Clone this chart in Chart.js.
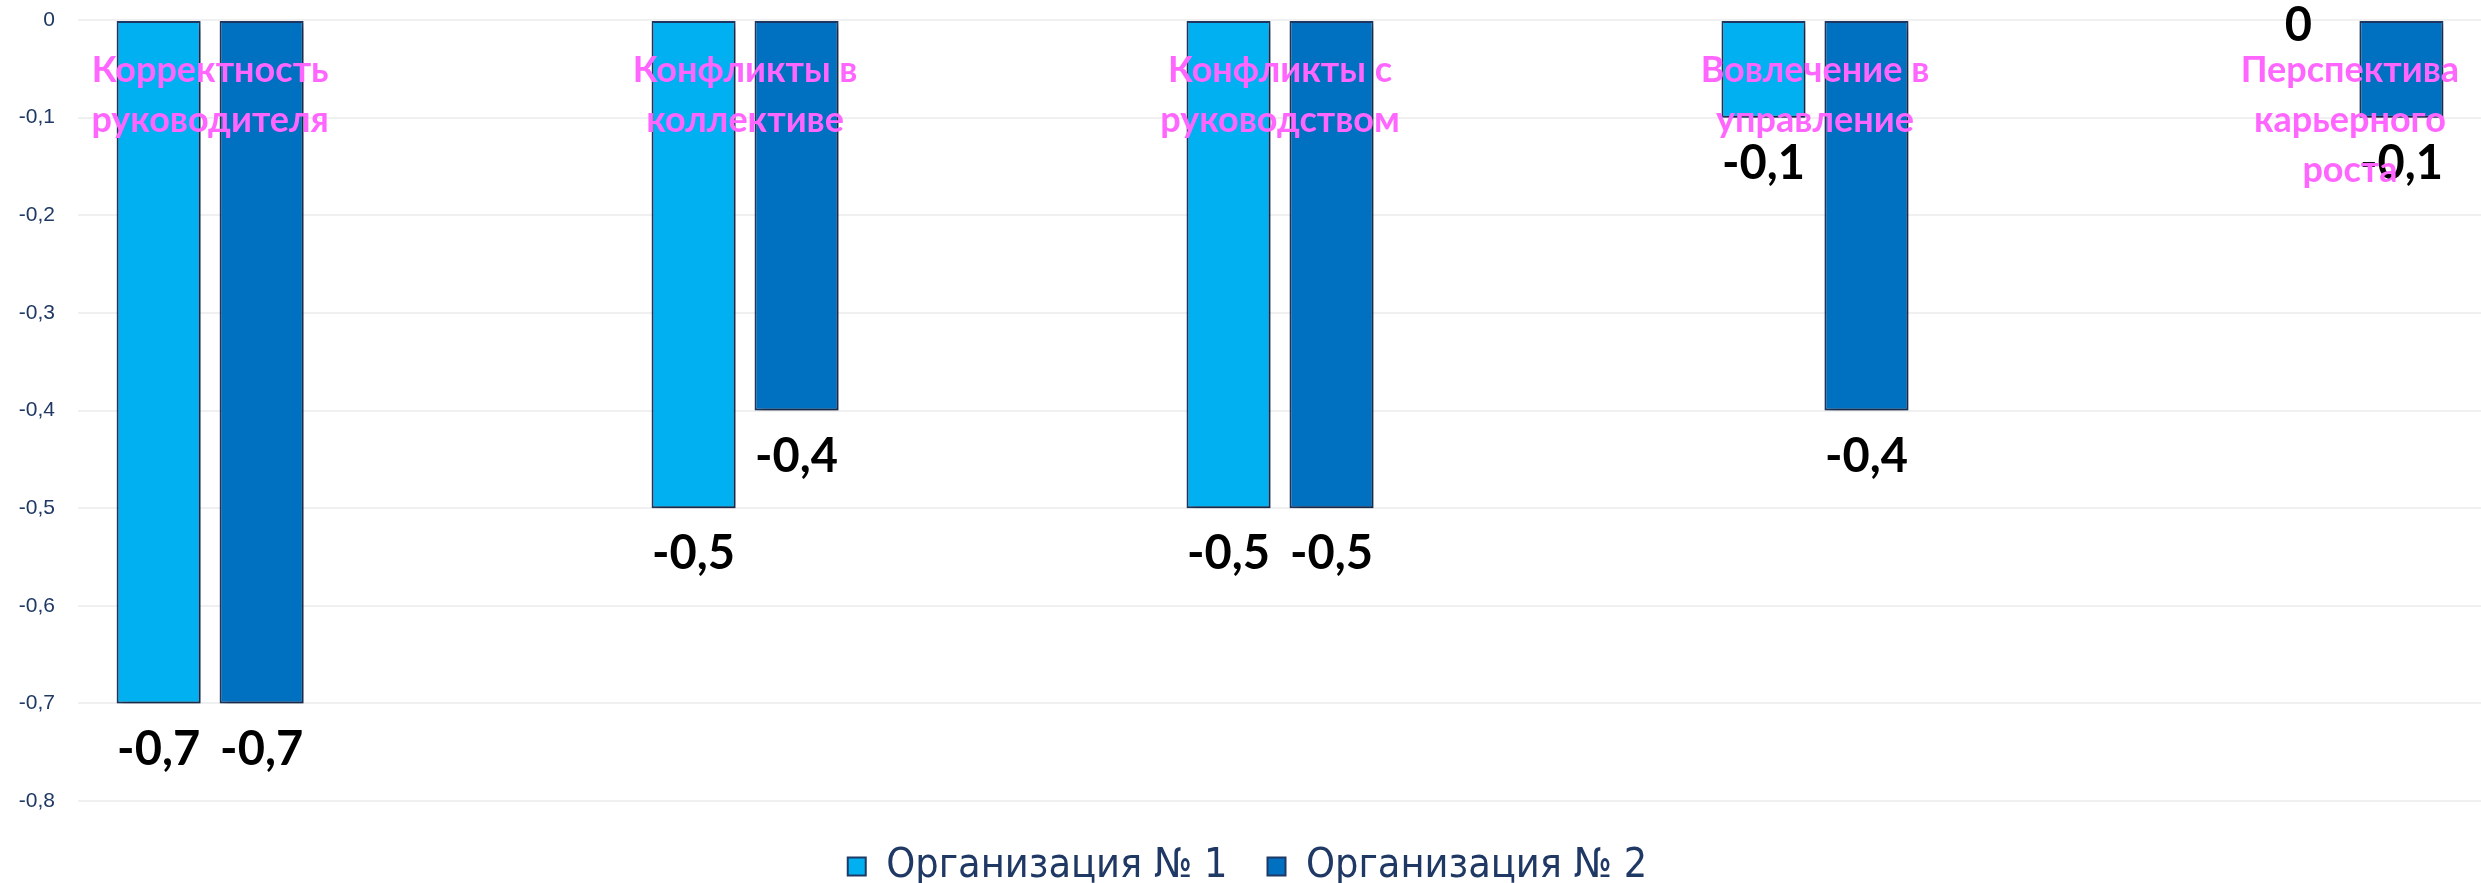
<!DOCTYPE html>
<html>
<head>
<meta charset="utf-8">
<script src="https://cdn.jsdelivr.net/npm/chart.js@4.4.0/dist/chart.umd.min.js"></script>
<style>
  html, body { margin: 0; padding: 0; background: #fff; }
</style>
</head>
<body>
<canvas id="chart" width="2481" height="883"></canvas>
<script>
// данные с картинки
const categories = [
    ['Корректность', 'руководителя'],
    ['Конфликты в', 'коллективе'],
    ['Конфликты с', 'руководством'],
    ['Вовлечение в', 'управление'],
    ['Перспектива', 'карьерного', 'роста']
];
const seriesNames = ['Организация № 1', 'Организация № 2'];
const org1 = [-0.7, -0.5, -0.5, -0.1, 0];
const org2 = [-0.7, -0.4, -0.5, -0.4, -0.1];
const yTickLabels = ['0', '-0,1', '-0,2', '-0,3', '-0,4', '-0,5', '-0,6', '-0,7', '-0,8'];

const COLORS = ['#00B0F0', '#0070C0'];
const BORDER = '#1F3864';
const LABEL_FONT = '"Lato", "Liberation Sans", sans-serif';
// видимая часть оси категорий (картинка обрезана по краям)
const X_MIN = -0.247;
const X_MAX = 4.245;

function formatValue(v) {
    return v === 0 ? '0' : v.toFixed(1).replace('.', ',');
}

// тень под столбиками
const barShadow = {
    id: 'barShadow',
    beforeDatasetsDraw(chart) {
        const ctx = chart.ctx;
        ctx.save();
        ctx.shadowColor = 'rgba(0, 0, 0, 0.35)';
        ctx.shadowBlur = 8;
        ctx.shadowOffsetX = 3;
        ctx.shadowOffsetY = 4;
    },
    afterDatasetsDraw(chart) {
        chart.ctx.restore();
    }
};

// подписи значений и категорий
const barLabels = {
    id: 'barLabels',
    afterDatasetsDraw(chart) {
        const { ctx, chartArea, scales } = chart;
        ctx.save();
        ctx.textAlign = 'center';
        ctx.textBaseline = 'middle';

        ctx.font = 'bold 47px ' + LABEL_FONT;
        ctx.fillStyle = '#000';
        chart.data.datasets.forEach((ds, di) => {
            const meta = chart.getDatasetMeta(di);
            meta.data.forEach((bar, i) => {
                const v = ds.data[i].y;
                const y = v < 0 ? bar.y + 46 : Math.max(bar.y - 46, 26);
                ctx.fillText(formatValue(v), bar.x, y);
            });
        });

        ctx.font = 'bold 36px ' + LABEL_FONT;
        ctx.fillStyle = '#FF66FF';
        categories.forEach((lines, i) => {
            const cx = scales.x.getPixelForValue(i);
            lines.forEach((line, k) => {
                ctx.fillText(line, cx, chartArea.top + 50 + k * 50);
            });
        });
        ctx.restore();
    }
};

new Chart(document.getElementById('chart'), {
    type: 'bar',
    data: {
        datasets: [
            {
                label: seriesNames[0],
                data: org1.map((v, i) => ({ x: i, y: v })),
                backgroundColor: COLORS[0],
                borderColor: BORDER,
                borderWidth: 2,
                borderSkipped: false
            },
            {
                label: seriesNames[1],
                data: org2.map((v, i) => ({ x: i, y: v })),
                backgroundColor: COLORS[1],
                borderColor: BORDER,
                borderWidth: 2,
                borderSkipped: false
            }
        ]
    },
    options: {
        responsive: false,
        animation: false,
        categoryPercentage: 0.385,
        barPercentage: 0.816,
        layout: { padding: { left: 14, top: 20, right: 0, bottom: -14 } },
        scales: {
            x: {
                type: 'linear',
                offset: false,
                bounds: 'data',
                grid: { display: false },
                border: { display: false },
                ticks: { display: false, includeBounds: false },
                afterBuildTicks: axis => {
                    axis.ticks = categories.map((_, i) => ({ value: i }));
                    axis.min = X_MIN;
                    axis.max = X_MAX;
                },
                afterFit: axis => { axis.height = 5; }
            },
            y: {
                min: -0.8,
                max: 0,
                border: { display: false },
                grid: { color: '#F0F0F0', lineWidth: 2, drawTicks: false },
                afterFit: axis => {
                    axis.width = 64;
                    axis.paddingTop = 0;
                },
                ticks: {
                    stepSize: 0.1,
                    padding: 23,
                    color: '#1F3864',
                    font: { family: '"Liberation Sans", Arial, sans-serif', size: 21 },
                    callback: v => yTickLabels[Math.round(-v * 10)]
                }
            }
        },
        plugins: {
            legend: {
                position: 'bottom',
                labels: {
                    boxWidth: 18,
                    boxHeight: 18,
                    padding: 40,
                    color: '#1F3864',
                    font: { family: '"Liberation Sans Narrow", "DejaVu Sans Condensed", sans-serif', size: 41 }
                }
            },
            tooltip: { enabled: false }
        }
    },
    plugins: [barShadow, barLabels]
});
</script>
</body>
</html>
